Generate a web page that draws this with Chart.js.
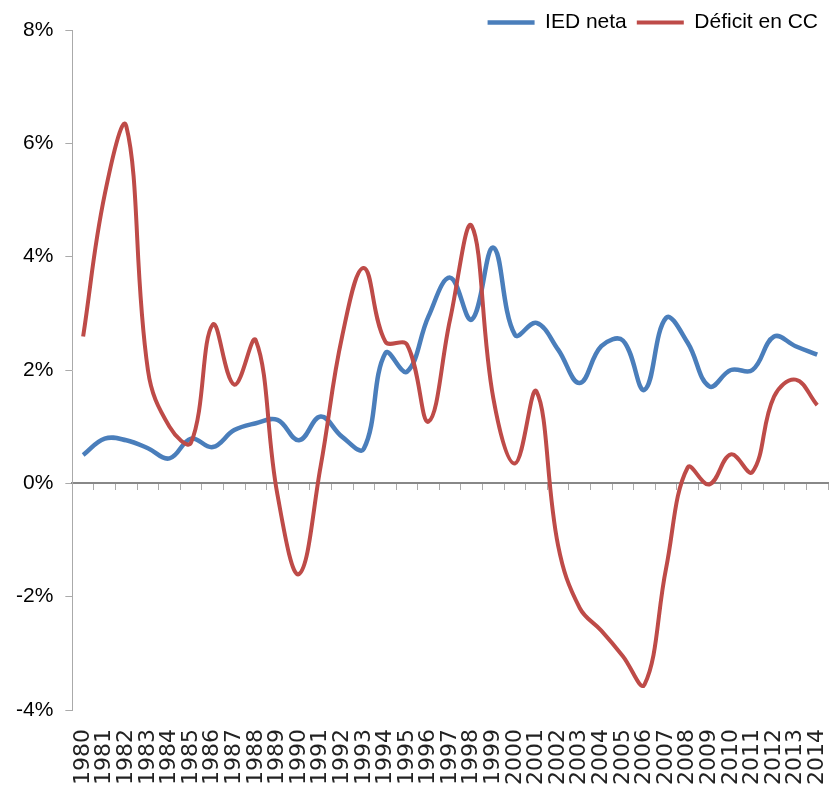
<!DOCTYPE html>
<html>
<head>
<meta charset="utf-8">
<script src="https://cdn.jsdelivr.net/npm/chart.js@4/dist/chart.umd.min.js"></script>
<style>
  html, body { margin: 0; padding: 0; background: #fff; }
  #wrap { width: 833px; height: 794px; }
</style>
</head>
<body>
<div id="wrap"><canvas id="grafico"></canvas></div>
<script>
// Datos (% del PIB)
const anios = ['1980','1981','1982','1983','1984','1985','1986','1987','1988','1989',
  '1990','1991','1992','1993','1994','1995','1996','1997','1998','1999',
  '2000','2001','2002','2003','2004','2005','2006','2007','2008','2009',
  '2010','2011','2012','2013','2014'];

const iedNeta = [0.50, 0.79, 0.76, 0.62, 0.44, 0.79, 0.64, 0.94, 1.06, 1.12,
  0.76, 1.18, 0.82, 0.61, 2.30, 1.97, 2.95, 3.63, 2.89, 4.16,
  2.62, 2.83, 2.36, 1.77, 2.42, 2.52, 1.65, 2.92, 2.48, 1.71,
  2.00, 2.00, 2.59, 2.42, 2.27];

const deficitCC = [2.59, 5.10, 6.30, 2.00, 1.00, 0.72, 2.80, 1.74, 2.52, -0.20,
  -1.60, 0.30, 2.60, 3.80, 2.50, 2.45, 1.09, 2.90, 4.54, 1.50,
  0.35, 1.62, -1.10, -2.20, -2.60, -3.05, -3.55, -1.50, 0.28, -0.02,
  0.51, 0.20, 1.53, 1.83, 1.38];

const ticksY = [-4, -2, 0, 2, 4, 6, 8];

const fuente = "'Liberation Sans', Arial, sans-serif";

const ctx = document.getElementById('grafico').getContext('2d');
new Chart(ctx, {
  type: 'line',
  data: {
    labels: anios,
    datasets: [
      {
        label: 'IED neta',
        data: iedNeta,
        borderColor: '#4a7ebb',
        backgroundColor: '#4a7ebb',
        borderWidth: 4.5,
        pointRadius: 0,
        tension: 0.4,
        order: 2
      },
      {
        label: 'Déficit en CC',
        data: deficitCC,
        borderColor: '#be4b48',
        backgroundColor: '#be4b48',
        borderWidth: 4,
        pointRadius: 0,
        tension: 0.4,
        order: 1
      }
    ]
  },
  options: {
    responsive: true,
    maintainAspectRatio: false,
    animation: false,
    layout: { padding: { top: 2, left: 4, right: 5, bottom: 7 } },
    plugins: {
      tooltip: { enabled: false },
      legend: {
        position: 'top',
        align: 'end',
        maxHeight: 28,
        labels: {
          usePointStyle: true,
          pointStyle: 'line',
          pointStyleWidth: 47,
          padding: 10,
          color: '#000',
          font: { family: fuente, size: 21 },
          sort: (a, b) => a.datasetIndex - b.datasetIndex
        }
      }
    },
    scales: {
      x: {
        offset: true,
        // marcas ocultas: solo separan las etiquetas del gráfico
        grid: { display: false, drawTicks: true, tickLength: 17 },
        border: { display: false },
        ticks: {
          autoSkip: false,
          minRotation: 90,
          maxRotation: 90,
          padding: 2,
          color: '#222',
          font: { family: "'DejaVu Sans', sans-serif", size: 22, lineHeight: 0.6 }
        }
      },
      // eje en el 0% con sus marcas
      x2: {
        axis: 'x',
        type: 'category',
        position: { y: 0 },
        offset: true,
        grid: { offset: true, drawOnChartArea: false, drawTicks: true, tickLength: 6, color: '#aaa' },
        border: { display: true, color: '#888', width: 2 },
        ticks: { display: false }
      },
      y: {
        min: -4,
        max: 8,
        afterBuildTicks: (eje) => { eje.ticks = ticksY.map(v => ({ value: v })); },
        grid: { drawOnChartArea: false, drawTicks: true, tickLength: 7, color: '#aaa' },
        border: { display: true, color: '#aaa', width: 1 },
        ticks: {
          padding: 12,
          color: '#000',
          font: { family: fuente, size: 21 },
          callback: (v) => v + '%'
        }
      }
    }
  }
});
</script>
</body>
</html>
